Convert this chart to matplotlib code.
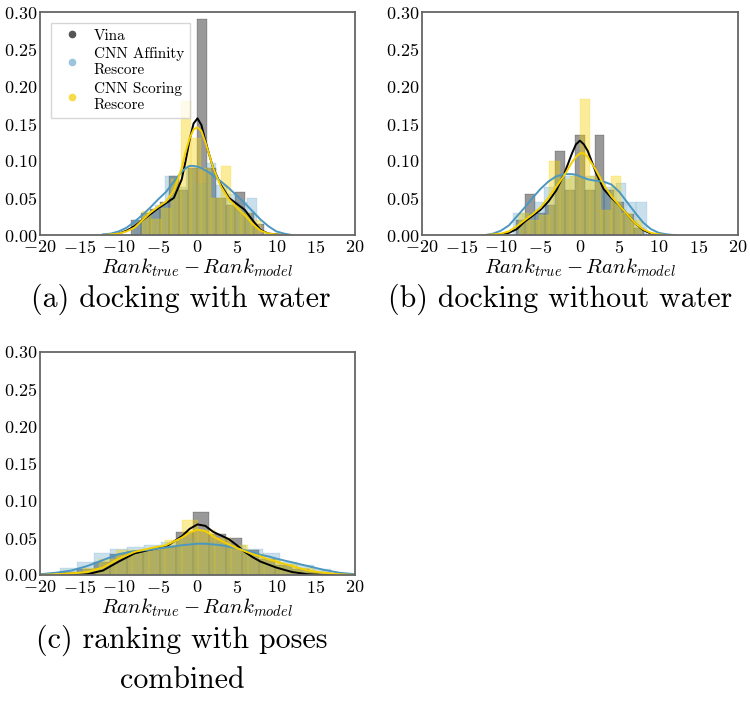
import matplotlib
matplotlib.use("Agg")
import matplotlib.pyplot as plt
from matplotlib.lines import Line2D

# === data ===
# histogram bins: first edge, bin width, density heights
hist_a_vina = (-8.4, 1.2, [0.02, 0.03, 0.035, 0.045, 0.08, 0.06, 0.09, 0.29, 0.09, 0.05, 0.04, 0.058, 0.03, 0.015])
hist_a_aff = (-8.0, 1.3, [0.02, 0.03, 0.04, 0.08, 0.065, 0.09, 0.07, 0.097, 0.067, 0.055, 0.045, 0.05])
hist_a_score = (-7.1, 1.26, [0.033, 0.022, 0.036, 0.075, 0.18, 0.13, 0.09, 0.05, 0.093, 0.04, 0.03, 0.02])

hist_b_vina = (-8.15, 1.25, [0.02, 0.055, 0.03, 0.04, 0.113, 0.06, 0.135, 0.06, 0.135, 0.06, 0.045, 0.028, 0.01])
hist_b_aff = (-8.45, 1.3, [0.03, 0.03, 0.045, 0.065, 0.08, 0.08, 0.075, 0.08, 0.07, 0.065, 0.07, 0.045, 0.045])
hist_b_score = (-7.76, 1.3, [0.03, 0.02, 0.027, 0.1, 0.075, 0.08, 0.183, 0.08, 0.034, 0.079, 0.03, 0.02])

hist_c_vina = (-17.4, 2.1, [0.004, 0.008, 0.018, 0.028, 0.032, 0.034, 0.038, 0.058, 0.084, 0.055, 0.05, 0.034, 0.022, 0.014, 0.008, 0.004, 0.002])
hist_c_aff = (-17.5, 2.15, [0.009, 0.017, 0.03, 0.035, 0.038, 0.04, 0.045, 0.05, 0.045, 0.045, 0.04, 0.035, 0.029, 0.018, 0.013, 0.008])
hist_c_score = (-16.7, 2.1, [0.004, 0.01, 0.022, 0.034, 0.033, 0.035, 0.047, 0.074, 0.06, 0.05, 0.04, 0.028, 0.022, 0.015, 0.009, 0.004])

# kde curves: x positions and density
kde_a_x = [-12, -11, -10, -9, -8, -7, -6, -5, -4, -3, -2, -1.5, -1, -0.5, 0, 0.5, 1, 1.5, 2, 3, 4, 5, 6, 7, 8, 9, 10, 11, 12]
kde_a_vina = [0, 0.001, 0.002, 0.006, 0.012, 0.02, 0.028, 0.036, 0.043, 0.05, 0.075, 0.1, 0.128, 0.15, 0.157, 0.148, 0.127, 0.108, 0.09, 0.067, 0.05, 0.042, 0.034, 0.02, 0.007, 0.002, 0.001, 0, 0]
kde_a_aff = [0.001, 0.002, 0.005, 0.01, 0.018, 0.027, 0.037, 0.048, 0.058, 0.072, 0.085, 0.09, 0.093, 0.093, 0.092, 0.09, 0.087, 0.084, 0.08, 0.072, 0.063, 0.053, 0.043, 0.032, 0.021, 0.012, 0.005, 0.002, 0]
kde_a_score = [0, 0.001, 0.002, 0.005, 0.01, 0.02, 0.03, 0.038, 0.045, 0.06, 0.09, 0.112, 0.13, 0.142, 0.145, 0.14, 0.125, 0.108, 0.09, 0.065, 0.048, 0.037, 0.027, 0.015, 0.006, 0.002, 0.001, 0, 0]

kde_b_x = [-12, -11, -10, -9, -8, -7, -6, -5, -4, -3, -2, -1, -0.5, 0, 0.5, 1, 2, 3, 4, 5, 6, 7, 8, 9, 10, 11, 12]
kde_b_vina = [0, 0, 0.001, 0.003, 0.008, 0.018, 0.026, 0.034, 0.045, 0.06, 0.082, 0.11, 0.122, 0.127, 0.122, 0.113, 0.085, 0.062, 0.05, 0.04, 0.028, 0.016, 0.007, 0.002, 0, 0, 0]
kde_b_aff = [0, 0.002, 0.006, 0.013, 0.025, 0.037, 0.05, 0.062, 0.072, 0.079, 0.082, 0.082, 0.081, 0.079, 0.077, 0.075, 0.073, 0.072, 0.068, 0.058, 0.044, 0.03, 0.017, 0.008, 0.003, 0.001, 0]
kde_b_score = [0, 0.001, 0.002, 0.005, 0.012, 0.02, 0.028, 0.037, 0.05, 0.065, 0.08, 0.098, 0.105, 0.11, 0.11, 0.105, 0.088, 0.068, 0.052, 0.04, 0.028, 0.016, 0.008, 0.003, 0.001, 0, 0]

kde_c_x = [-20, -18, -16, -14, -12, -10, -8, -6, -4, -2, -1, 0, 1, 2, 3, 4, 5, 6, 7, 8, 9, 10, 12, 14, 16, 18, 20]
kde_c_vina = [0, 0, 0, 0.001, 0.006, 0.018, 0.029, 0.034, 0.038, 0.052, 0.062, 0.068, 0.066, 0.058, 0.053, 0.048, 0.04, 0.031, 0.024, 0.018, 0.014, 0.01, 0.004, 0.001, 0, 0, 0]
kde_c_aff = [0.001, 0.003, 0.006, 0.012, 0.02, 0.028, 0.032, 0.034, 0.037, 0.04, 0.041, 0.042, 0.042, 0.041, 0.04, 0.038, 0.036, 0.033, 0.03, 0.027, 0.025, 0.022, 0.017, 0.012, 0.007, 0.003, 0.001]
kde_c_score = [0, 0.001, 0.002, 0.004, 0.01, 0.022, 0.031, 0.036, 0.04, 0.05, 0.057, 0.061, 0.059, 0.052, 0.046, 0.041, 0.036, 0.032, 0.028, 0.025, 0.021, 0.018, 0.012, 0.006, 0.003, 0.001, 0]

labels = ["Vina", "CNN Affinity\nRescore", "CNN Scoring\nRescore"]
captions = ["(a) docking with water", "(b) docking without water", "(c) ranking with poses\ncombined"]
xticks = [-20, -15, -10, -5, 0, 5, 10, 15, 20]
yticks = [0.0, 0.05, 0.10, 0.15, 0.20, 0.25, 0.30]

# === style ===
plt.rcParams["font.family"] = ["cmr10", "DejaVu Serif"]
plt.rcParams["mathtext.fontset"] = "cm"
plt.rcParams["axes.formatter.use_mathtext"] = True

colors = ["#000000", "#4c97c0", "#f5d000"]
bar_alpha = [0.4, 0.3, 0.4]
marker_colors = ["#555555", "#9cc5dd", "#f7dc4a"]

fig = plt.figure(figsize=(7.5, 7.06), dpi=100)
ax_a = fig.add_axes([0.0533, 0.667, 0.42, 0.316])
ax_b = fig.add_axes([0.5627, 0.667, 0.421, 0.316])
ax_c = fig.add_axes([0.0533, 0.1856, 0.42, 0.316])

panels = [
    (ax_a, [hist_a_vina, hist_a_aff, hist_a_score], kde_a_x, [kde_a_vina, kde_a_aff, kde_a_score]),
    (ax_b, [hist_b_vina, hist_b_aff, hist_b_score], kde_b_x, [kde_b_vina, kde_b_aff, kde_b_score]),
    (ax_c, [hist_c_vina, hist_c_aff, hist_c_score], kde_c_x, [kde_c_vina, kde_c_aff, kde_c_score]),
]

for ax, hists, kx, kdes in panels:
    for i in range(3):
        start, width, heights = hists[i]
        lefts = [start + j * width for j in range(len(heights))]
        ax.bar(lefts, heights, width=width, align="edge", color=colors[i],
               alpha=bar_alpha[i], edgecolor=colors[i], linewidth=0.35)
        ax.plot(kx, kdes[i], color=colors[i], lw=1.4)
    ax.set_xlim(-20, 20)
    ax.set_ylim(0, 0.3)
    ax.set_xticks(xticks)
    ax.set_xticklabels([f"${t}$" for t in xticks], fontsize=13)
    ax.set_yticks(yticks)
    ax.set_yticklabels([f"${t:.2f}$" for t in yticks], fontsize=13)
    ax.tick_params(axis="y", length=0, pad=2)
    ax.tick_params(axis="x", length=0, pad=3)
    ax.set_xlabel(r"$Rank_{true} - Rank_{model}$", fontsize=15, labelpad=0)
    for s in ax.spines.values():
        s.set_color("#666666")
        s.set_linewidth(1.3)

handles = [Line2D([], [], marker="o", ls="none", color=c, markersize=4.5) for c in marker_colors]
leg = ax_a.legend(handles, labels, loc="upper left", fontsize=11, frameon=True,
                  fancybox=False, handletextpad=0.4, borderpad=0.4, labelspacing=0.3,
                  bbox_to_anchor=(0.01, 0.985))
leg.get_frame().set_edgecolor("#cccccc")
leg.get_frame().set_linewidth(1.0)

fig.text(181 / 750, 1 - 299 / 706, captions[0], fontsize=21.5, ha="center", va="center")
fig.text(560 / 750, 1 - 299 / 706, captions[1], fontsize=21.5, ha="center", va="center")
fig.text(182 / 750, 1 - 659 / 706, captions[2], fontsize=21.5, ha="center", va="center",
         linespacing=1.5)

fig.savefig("out.png", dpi=100)
